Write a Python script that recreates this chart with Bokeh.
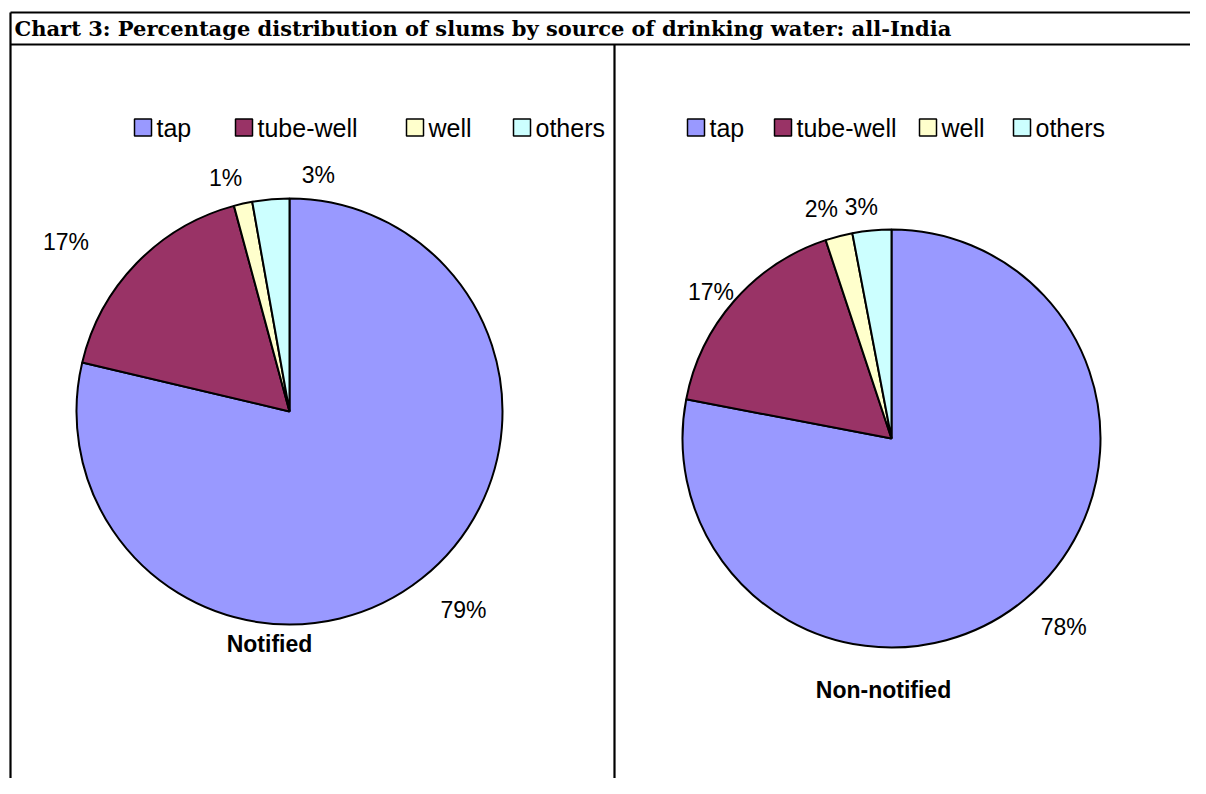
import numpy as np
from bokeh.plotting import figure
from bokeh.models import Range1d
from bokeh.core.properties import value
from bokeh.embed import file_html
from bokeh.resources import INLINE

# ---------------- data ----------------
chart_title = "Chart 3: Percentage distribution of slums by source of drinking water: all-India"
sources = ["tap", "tube-well", "well", "others"]
notified = [78.7, 17.1, 1.4, 2.8]
non_notified = [78.0, 16.9, 2.1, 3.0]
panel_titles = ["Notified", "Non-notified"]

# ---------------- style ----------------
colors = ["#9999FF", "#993366", "#FFFFCC", "#CCFFFF"]
SANS = "Liberation Sans"
SERIF = "DejaVu Serif"

W, H = 1190, 778
OX, OY = 0, 0


def X(ix):
    return ix - OX


def Y(iy):
    return H + OY - iy


p = figure(width=W, height=H, x_range=Range1d(0, W), y_range=Range1d(0, H),
           output_backend="svg", toolbar_location=None, min_border=0,
           x_axis_location=None, y_axis_location=None)
p.grid.visible = False
p.outline_line_color = None
p.background_fill_color = "white"
p.border_fill_color = "white"

# frame lines (table-like layout)
p.segment(x0=[X(10), X(10), X(10), X(614)], y0=[Y(12), Y(44), Y(12), Y(44)],
          x1=[W, W, X(10), X(614)], y1=[Y(12), Y(44), 0, 0],
          line_color="black", line_width=2.2)

p.text(x=[X(14)], y=[Y(28)], text=[chart_title], text_font=value(SERIF),
       text_font_style="bold", text_font_size="21px", text_baseline="middle",
       text_align="left", text_color="black")

panels = [
    dict(vals=notified, cx=289, cy=411, r=213, title=panel_titles[0], tpos=(269, 643),
         nudges=[(18, 1), (-43, 5), (-9, 12), (51, 14)],
         legend_x=[134, 235, 406, 513], legend_y=127),
    dict(vals=non_notified, cx=891, cy=438, r=209, title=panel_titles[1], tpos=(883, 689),
         nudges=[(15, -2), (5, 16), (-8, 9), (-7, 14)],
         legend_x=[687, 774, 919, 1013], legend_y=127),
]

for pn in panels:
    v = np.array(pn["vals"], dtype=float)
    frac = v / v.sum()
    cum = np.concatenate([[0.0], np.cumsum(frac)])
    start = np.pi / 2 - 2 * np.pi * cum[1:]
    end = np.pi / 2 - 2 * np.pi * cum[:-1]
    p.wedge(x=X(pn["cx"]), y=Y(pn["cy"]), radius=pn["r"], start_angle=list(start),
            end_angle=list(end), fill_color=colors, line_color="black",
            line_width=2, direction="anticlock")

    mid = (start + end) / 2
    L = pn["r"] * 1.18
    lx, ly, lt = [], [], []
    for m, val, (nx, ny) in zip(mid, v, pn["nudges"]):
        ix = pn["cx"] + L * np.cos(m) + nx
        iy = pn["cy"] - L * np.sin(m) + ny
        lx.append(X(ix))
        ly.append(Y(iy))
        lt.append(f"{int(round(val))}%")
    p.text(x=lx, y=ly, text=lt, text_font=value(SANS), text_font_size="23px",
           text_align="center", text_baseline="middle", text_color="black")

    tx, ty = pn["tpos"]
    p.text(x=[X(tx)], y=[Y(ty)], text=[pn["title"]], text_font=value(SANS),
           text_font_style="bold", text_font_size="23px", text_align="center",
           text_baseline="middle", text_color="black")

    sq = 17
    p.rect(x=[X(lx0 + sq / 2) for lx0 in pn["legend_x"]],
           y=[Y(pn["legend_y"])] * 4, width=sq, height=sq,
           fill_color=colors, line_color="black", line_width=1.5)
    p.text(x=[X(lx0 + sq + 5) for lx0 in pn["legend_x"]], y=[Y(pn["legend_y"])] * 4,
           text=sources, text_font=value(SANS), text_font_size="25px",
           text_align="left", text_baseline="middle", text_color="black")

open("out.html", "w").write(file_html(p, INLINE))
